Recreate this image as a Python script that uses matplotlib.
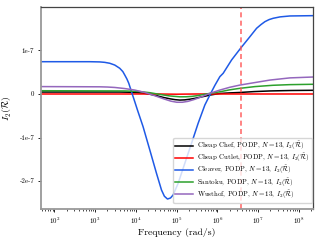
#!/usr/bin/env python3

#
#Plot the I_2 invariant of each knife against frequency
#

import numpy as np
import matplotlib
matplotlib.use('Agg')
import matplotlib.pyplot as plt


#log10 of frequency (rad/s) and I_2 values (units of 1e-7)
chefLogF = [1.663, 3.600, 3.850, 4.050, 4.219, 4.364, 4.514, 4.680, 4.833, 4.960, 5.079,
            5.200, 5.324, 5.450, 5.570, 5.700, 5.816, 6.061, 6.300, 6.553, 6.900, 7.290, 7.800, 8.346]
chefVal = [0.045, 0.045, 0.04, 0.03, 0.015, -0.01, -0.04, -0.08, -0.11, -0.13, -0.14,
           -0.135, -0.12, -0.1, -0.075, -0.05, -0.025, 0.012, 0.025, 0.035, 0.055, 0.07, 0.08, 0.085]

cutletLogF = [1.663, 4.5, 5.0, 5.5, 8.346]
cutletVal = [0.0, 0.0, -0.005, 0.0, 0.0]

cleaverLogF = [1.663, 2.867, 3.113, 3.236, 3.359, 3.482, 3.604, 3.680, 3.727, 3.780,
               3.826, 3.892, 3.973, 4.039, 4.177, 4.342, 4.506, 4.629, 4.700, 4.776,
               4.850, 4.914, 5.037, 5.201, 5.366, 5.528, 5.693, 5.816, 5.940, 6.061,
               6.143, 6.349, 6.570, 6.799, 6.963, 7.070, 7.167, 7.270, 7.371, 7.540,
               7.781, 8.346]
cleaverVal = [0.742, 0.742, 0.737, 0.727, 0.706, 0.665, 0.591, 0.515, 0.437, 0.345,
              0.246, 0.053, -0.177, -0.368, -0.752, -1.287, -1.823, -2.207, -2.350, -2.414,
              -2.390, -2.322, -2.053, -1.593, -1.133, -0.674, -0.253, -0.023, 0.200, 0.398,
              0.476, 0.782, 1.051, 1.317, 1.510, 1.595, 1.662, 1.710, 1.740, 1.772,
              1.793, 1.800]

santokuLogF = [1.663, 3.727, 3.950, 4.096, 4.342, 4.587, 4.833, 5.079, 5.230, 5.373,
               5.530, 5.693, 6.061, 6.300, 6.553, 6.921, 7.364, 7.781, 8.346]
santokuVal = [0.075, 0.07, 0.063, 0.055, 0.03, -0.01, -0.045, -0.065, -0.064, -0.055,
              -0.035, -0.005, 0.05, 0.095, 0.13, 0.17, 0.2, 0.215, 0.223]

wusthofLogF = [1.663, 3.113, 3.300, 3.482, 3.727, 3.973, 4.219, 4.464, 4.710, 4.860,
               5.005, 5.140, 5.275, 5.420, 5.570, 5.816, 6.061, 6.307, 6.553, 6.872,
               7.290, 7.781, 8.346]
wusthofVal = [0.17, 0.165, 0.16, 0.15, 0.125, 0.09, 0.035, -0.04, -0.12, -0.165,
              -0.19, -0.19, -0.17, -0.13, -0.08, 0.015, 0.09, 0.155, 0.205, 0.255,
              0.32, 0.37, 0.39]

names = ['Cheap Chef', 'Cheap Cutlet', 'Cleaver', 'Santoku', 'Wusthof']
colours = ['black', '#ff0000', '#1f5ae6', '#2ca02c', '#9467bd']

yTicks = [1e-7, 0, -1e-7, -2e-7]
yTickLabels = ['1e-7', '0', '-1e-7', '-2e-7']

#frequency of the dashed marker line
markFreq = 3.78e6


plt.rcParams['font.family'] = ['cmr10', 'DejaVu Serif']
plt.rcParams['mathtext.fontset'] = 'cm'
plt.rcParams['axes.formatter.use_mathtext'] = True
plt.rcParams['axes.unicode_minus'] = False

fig = plt.figure(figsize=(3.2, 2.4), dpi=100)
ax = fig.add_axes([0.127, 0.129, 0.851, 0.842])

curves = [(chefLogF, chefVal), (cutletLogF, cutletVal), (cleaverLogF, cleaverVal),
          (santokuLogF, santokuVal), (wusthofLogF, wusthofVal)]

for (logF, val), name, col in zip(curves, names, colours):
    freq = 10 ** np.array(logF)
    ax.plot(freq, np.array(val) * 1e-7, color=col, lw=1.1,
            label=name + r', PODP, $N=13$, $I_2(\tilde{\mathcal{R}})$')

ax.axvline(markFreq, color='#ff5555', ls='--', lw=1.2, alpha=0.85, dashes=(3, 2))

ax.set_xscale('log')
ax.set_xlim(10 ** 1.663, 10 ** 8.346)
ax.set_ylim(-2.644e-7, 2.0e-7)

ax.set_yticks(yTicks)
ax.set_yticklabels(yTickLabels)
ax.tick_params(axis='both', which='major', labelsize=5, length=2.5, width=0.6, pad=2)
ax.tick_params(axis='x', which='minor', length=1.5, width=0.5)

#spines: lighter on left and bottom
for side in ['left', 'bottom']:
    ax.spines[side].set_color('#999999')
    ax.spines[side].set_linewidth(1.3)
for side in ['top', 'right']:
    ax.spines[side].set_color('#444444')
    ax.spines[side].set_linewidth(0.9)

ax.set_xlabel('Frequency (rad/s)', fontsize=7, labelpad=2)
ax.set_ylabel(r'$I_2(\tilde{\mathcal{R}})$', fontsize=7, labelpad=4)

ax.legend(loc='lower right', bbox_to_anchor=(0.997, 0.03), borderaxespad=0,
          fontsize=5, framealpha=0.8, handlelength=2.6, labelspacing=0.0,
          borderpad=0.3, handletextpad=0.6)

fig.savefig('out.png', dpi=100)
